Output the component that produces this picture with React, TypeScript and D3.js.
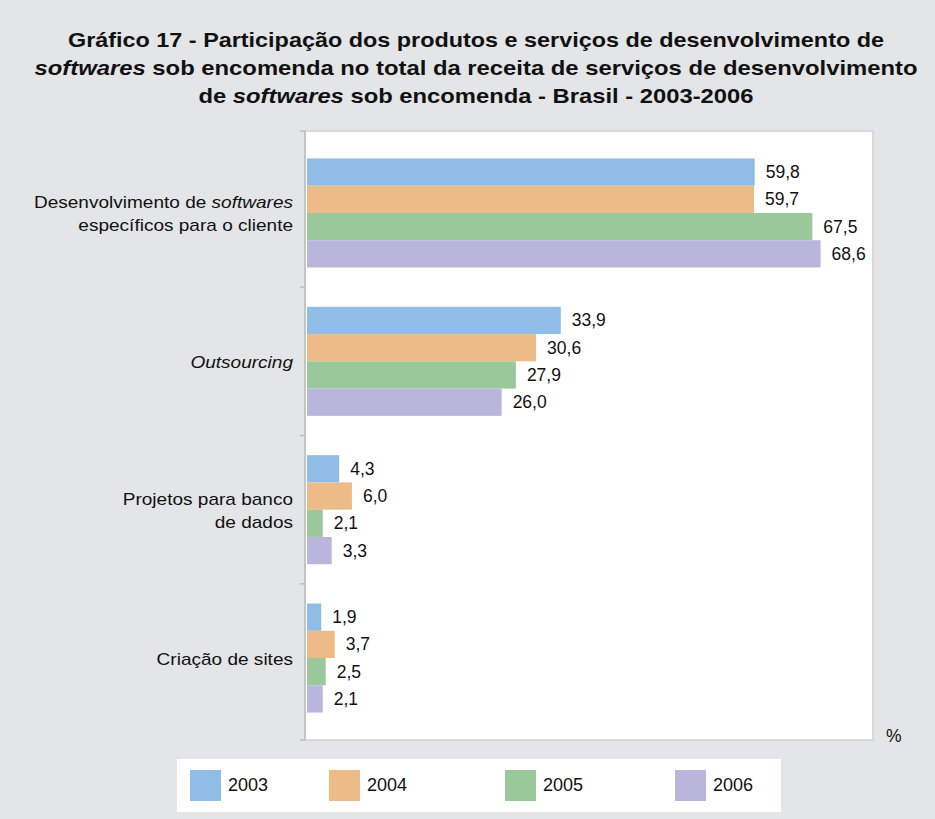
import React from "react";
import * as d3 from "d3";

const categories = [
  "Desenvolvimento de softwares específicos para o cliente",
  "Outsourcing",
  "Projetos para banco de dados",
  "Criação de sites",
];
const years = ["2003", "2004", "2005", "2006"];
const values2003 = [59.8, 33.9, 4.3, 1.9];
const values2004 = [59.7, 30.6, 6.0, 3.7];
const values2005 = [67.5, 27.9, 2.1, 2.5];
const values2006 = [68.6, 26.0, 3.3, 2.1];
const seriesValues = [values2003, values2004, values2005, values2006];
const colors = ["#8fbde7", "#edbb87", "#9ac89b", "#bab5da"];

// label lines: [text, italic][]
const categoryLabelLines: [string, boolean][][][] = [
  [
    [["Desenvolvimento de ", false], ["softwares", true]],
    [["específicos para o cliente", false]],
  ],
  [[["Outsourcing", true]]],
  [[["Projetos para banco", false]], [["de dados", false]]],
  [[["Criação de sites", false]]],
];

const titleLines: [string, boolean][][] = [
  [["Gráfico 17 - Participação dos produtos e serviços de desenvolvimento de", false]],
  [
    ["softwares", true],
    [" sob encomenda no total da receita de serviços de desenvolvimento", false],
  ],
  [
    ["de ", false],
    ["softwares", true],
    [" sob encomenda - Brasil - 2003-2006", false],
  ],
];
const titleWidths = [816, 883, 555];

const W = 935;
const H = 819;
const FONT = "'Liberation Sans', Arial, Helvetica, sans-serif";
const plot = { left: 305, right: 873, top: 131, bottom: 740 };
const barStart = 307;
const xMax = 75.6;
const legendBox = { x: 177, y: 759, w: 604, h: 53 };
const legendSwatchX = [190, 329, 505, 675];
const labelStretch = 1.12;

export default function App() {
  const x = d3.scaleLinear().domain([0, xMax]).range([barStart, plot.right]);
  const y0 = d3
    .scaleBand<string>()
    .domain(categories)
    .range([plot.top, plot.bottom])
    .paddingInner(0.265)
    .paddingOuter(0.185);
  const y1 = d3
    .scaleBand<string>()
    .domain(years)
    .range([0, y0.bandwidth()])
    .padding(0);

  const step = y0.step();
  const tickYs = [plot.top];
  categories.slice(1).forEach((c) => {
    tickYs.push((y0(c) as number) - (step - y0.bandwidth()) / 2);
  });
  tickYs.push(plot.bottom);

  const lineH = 23;

  return (
    <svg
      width={W}
      height={H}
      style={{ position: "absolute", left: 0, top: 0, display: "block" }}
      fontFamily={FONT}
    >
      <rect x={0} y={0} width={W} height={H} fill="#e4e5e7" />
      {/* Title */}
      {titleLines.map((line, i) => (
        <text
          key={i}
          x={476}
          y={47 + i * 28}
          textAnchor="middle"
          fontSize={20.5}
          fontWeight="bold"
          fill="#111"
          textLength={titleWidths[i]}
          lengthAdjust="spacingAndGlyphs"
        >
          {line.map(([t, it], j) => (
            <tspan key={j} fontStyle={it ? "italic" : "normal"}>
              {t}
            </tspan>
          ))}
        </text>
      ))}

      {/* Plot area */}
      <rect
        x={plot.left}
        y={plot.top}
        width={plot.right - plot.left}
        height={plot.bottom - plot.top}
        fill="#ffffff"
        stroke="#cfd0d2"
        strokeWidth={1.5}
      />
      <line
        x1={plot.left}
        x2={plot.left}
        y1={plot.top}
        y2={plot.bottom}
        stroke="#bdbec0"
        strokeWidth={1.5}
      />
      {tickYs.map((ty, i) => (
        <line
          key={i}
          x1={plot.left - 5}
          x2={plot.left}
          y1={ty}
          y2={ty}
          stroke="#bdbec0"
          strokeWidth={1.5}
        />
      ))}

      {/* Bars */}
      {categories.map((c, ci) => (
        <g key={c} transform={`translate(0,${y0(c)})`}>
          {years.map((yr, si) => {
            const v = seriesValues[si][ci];
            const by = y1(yr) as number;
            return (
              <g key={yr}>
                <rect
                  x={x(0)}
                  y={by}
                  width={x(v) - x(0)}
                  height={y1.bandwidth()}
                  fill={colors[si]}
                />
                <text
                  x={x(v) + 11}
                  y={by + y1.bandwidth() / 2 + 6}
                  fontSize={17.5}
                  fill="#111"
                >
                  {v.toFixed(1).replace(".", ",")}
                </text>
              </g>
            );
          })}
        </g>
      ))}

      {/* Category labels */}
      {categories.map((c, ci) => {
        const lines = categoryLabelLines[ci];
        const cy = (y0(c) as number) + y0.bandwidth() / 2 + 7;
        const firstBaseline = cy - ((lines.length - 1) * lineH) / 2;
        return (
          <g key={c}>
            {lines.map((ln, li) => (
              <text
                key={li}
                transform={`translate(293,${firstBaseline + li * lineH}) scale(${labelStretch},1)`}
                x={0}
                y={0}
                textAnchor="end"
                fontSize={17}
                fill="#111"
              >
                {ln.map(([t, it], k) => (
                  <tspan key={k} fontStyle={it ? "italic" : "normal"}>
                    {t}
                  </tspan>
                ))}
              </text>
            ))}
          </g>
        );
      })}

      {/* % unit */}
      <text x={886} y={742} fontSize={17.5} fill="#111">
        %
      </text>

      {/* Legend */}
      <rect
        x={legendBox.x}
        y={legendBox.y}
        width={legendBox.w}
        height={legendBox.h}
        fill="#ffffff"
      />
      {years.map((yr, i) => (
        <g key={yr}>
          <rect
            x={legendSwatchX[i]}
            y={770}
            width={31}
            height={31}
            fill={colors[i]}
          />
          <text
            x={legendSwatchX[i] + 38}
            y={791}
            fontSize={18}
            fill="#111"
          >
            {yr}
          </text>
        </g>
      ))}
    </svg>
  );
}
